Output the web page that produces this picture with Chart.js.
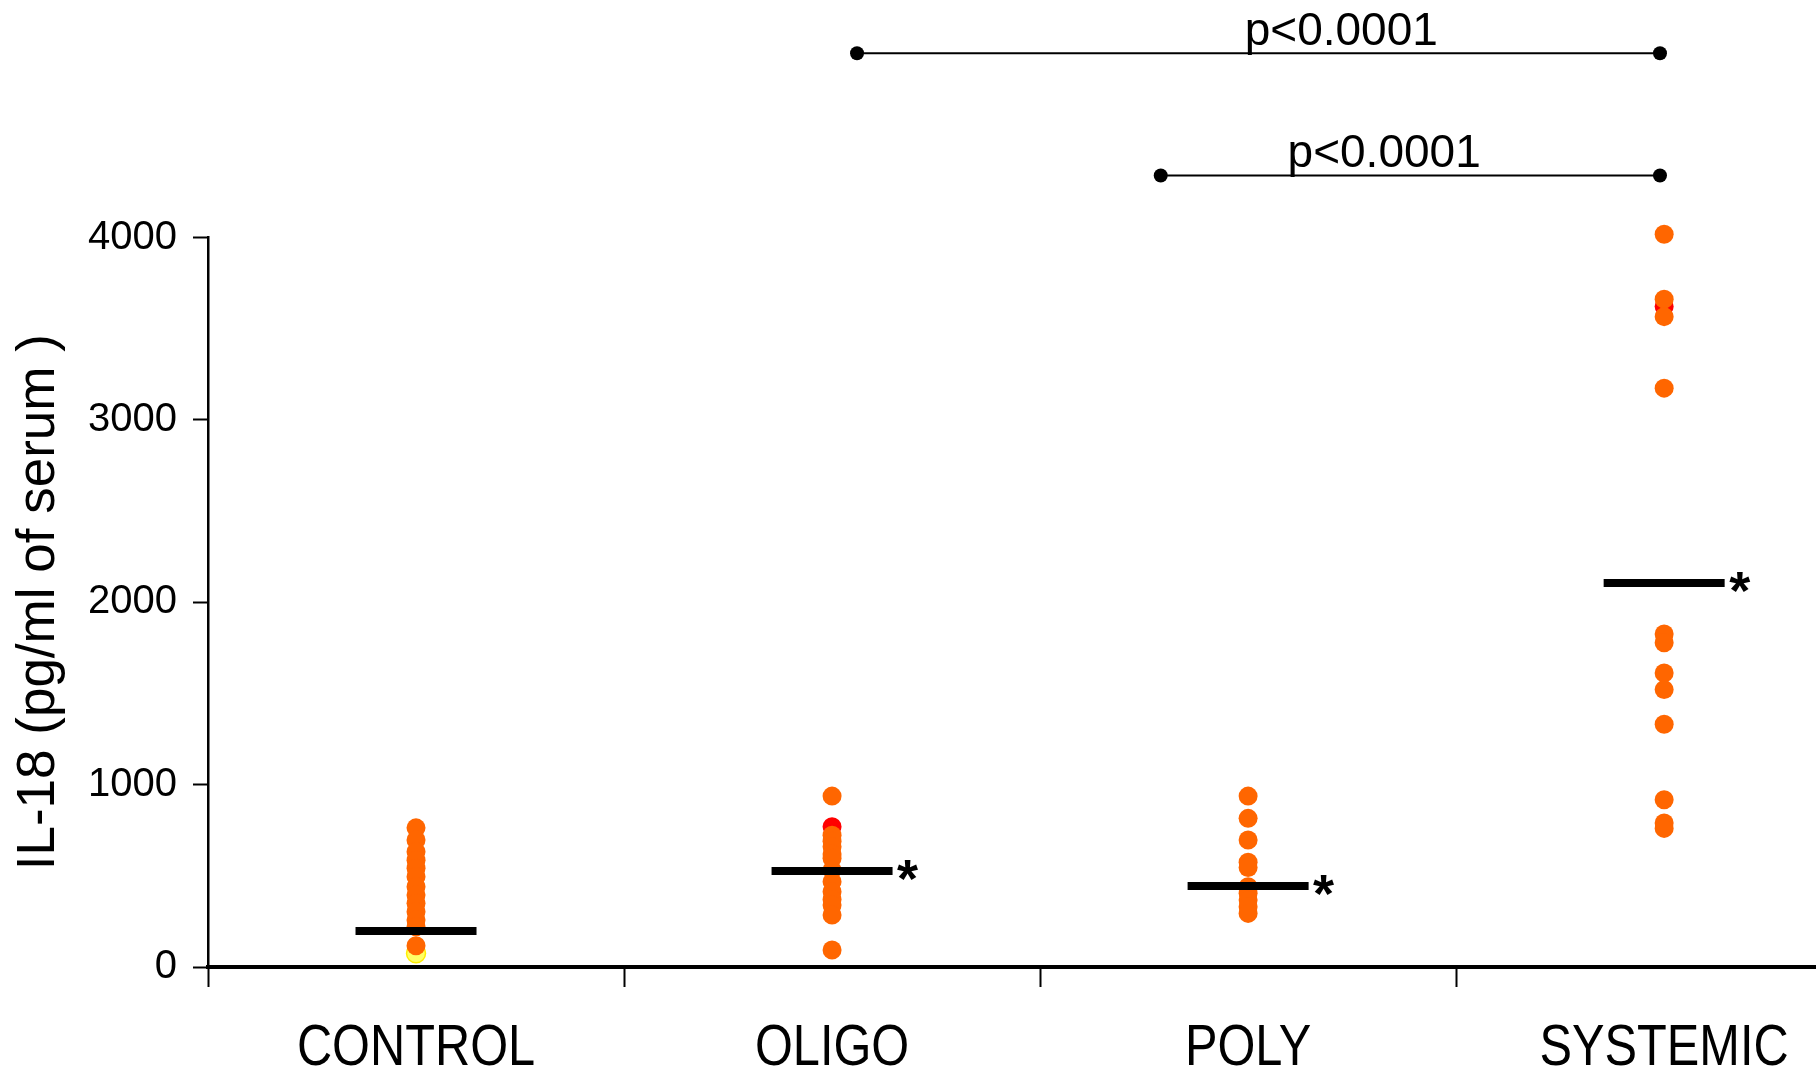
<!DOCTYPE html>
<html lang="en">
<head>
<meta charset="UTF-8">
<title>IL-18 serum levels</title>
<script src="https://cdn.jsdelivr.net/npm/chart.js"></script>
<style>
    html, body { margin: 0; padding: 0; background: #fff; }
    #wrap { width: 1816px; height: 1069px; }
</style>
</head>
<body>
<div id="wrap"><canvas id="il18Chart" width="1816" height="1069"></canvas></div>
<script>
// groups on the x axis
const groups = ['CONTROL', 'OLIGO', 'POLY', 'SYSTEMIC'];

// IL-18 values (pg/ml)
const controlValues = [763, 696, 632, 586, 541, 495, 440, 395, 349, 303, 258, 221, 117];
const oligoValues = [937, 723, 690, 659, 620, 596, 532, 468, 413, 370, 340, 285, 93];
const polyValues = [937, 815, 696, 575, 545, 440, 405, 367, 330, 294];
const systemicValues = [4018, 3662, 3566, 3174, 1826, 1778, 1612, 1521, 1331, 917, 790, 760];

// odd-coloured points, mostly hidden under the orange ones
const controlYellow = [75];
const oligoRed = [769];
const systemicRed = [3621];

// group means (black bars) and which ones get a star
const groupMeans = [197, 526, 444, 2105];
const starredGroups = [1, 2, 3];

const yTicks = [0, 1000, 2000, 3000, 4000];

// significance brackets: y level on the value axis, ends in group units
const brackets = [
    { level: 5010, from: 1.56, to: 3.49, textAt: 2.724, label: 'p<0.0001' },
    { level: 4340, from: 2.29, to: 3.49, textAt: 2.827, label: 'p<0.0001' }
];

const ORANGE = '#ff6600';
const FONT = '"Liberation Sans", Arial, sans-serif';
Chart.defaults.font.family = FONT;
Chart.defaults.color = '#000';

function points(groupIndex, values) {
    return values.map(v => ({ x: groupIndex + 0.5, y: v }));
}

function dots(data, color, order, border) {
    return {
        type: 'scatter',
        data: data,
        backgroundColor: color,
        borderColor: border || color,
        borderWidth: border ? 1.5 : 0,
        pointRadius: 9.5,
        pointHoverRadius: 9.5,
        clip: false,
        order: order
    };
}

// stars, p-value brackets and the condensed group names
const overlay = {
    id: 'overlay',
    afterDatasetsDraw(chart) {
        const { ctx, scales: { x, y } } = chart;
        ctx.save();
        ctx.fillStyle = '#000';
        ctx.strokeStyle = '#000';

        ctx.font = 'bold 54px ' + FONT;
        ctx.textAlign = 'left';
        ctx.textBaseline = 'alphabetic';
        starredGroups.forEach(i => {
            const px = x.getPixelForValue(i + 0.5) + 65;
            const py = y.getPixelForValue(groupMeans[i]) + 26;
            ctx.fillText('*', px, py);
        });

        ctx.lineWidth = 2;
        ctx.font = '46px ' + FONT;
        ctx.textAlign = 'center';
        brackets.forEach(b => {
            const yy = y.getPixelForValue(b.level);
            const x1 = x.getPixelForValue(b.from);
            const x2 = x.getPixelForValue(b.to);
            ctx.beginPath();
            ctx.moveTo(x1, yy);
            ctx.lineTo(x2, yy);
            ctx.stroke();
            [x1, x2].forEach(px => {
                ctx.beginPath();
                ctx.arc(px, yy, 7, 0, Math.PI * 2);
                ctx.fill();
            });
            ctx.fillText(b.label, x.getPixelForValue(b.textAt), yy - 8);
        });

        // group names: narrow type, so squeeze horizontally
        ctx.font = '58px ' + FONT;
        ctx.textAlign = 'center';
        ctx.textBaseline = 'alphabetic';
        groups.forEach((g, i) => {
            ctx.save();
            ctx.translate(x.getPixelForValue(i + 0.5), chart.chartArea.bottom + 98);
            ctx.scale(0.84, 1);
            ctx.fillText(g, 0, 0);
            ctx.restore();
        });
        ctx.restore();
    }
};

const datasets = [
    dots(points(0, controlValues), ORANGE, 2),
    dots(points(1, oligoValues), ORANGE, 2),
    dots(points(2, polyValues), ORANGE, 2),
    dots(points(3, systemicValues), ORANGE, 2),
    dots(points(1, oligoRed), '#ff0000', 3),
    dots(points(3, systemicRed), '#ff0000', 3),
    dots(points(0, controlYellow), '#ffff66', 4, '#ffee00'),
    {
        type: 'scatter',
        data: groupMeans.map((m, i) => ({ x: i + 0.5, y: m })),
        pointStyle: 'line',
        pointRadius: 60.5,
        pointHoverRadius: 60.5,
        borderColor: '#000',
        borderWidth: 8,
        order: 1
    }
];

new Chart(document.getElementById('il18Chart'), {
    type: 'scatter',
    data: { datasets: datasets },
    plugins: [overlay],
    options: {
        responsive: false,
        animation: false,
        events: [],
        layout: { autoPadding: false, padding: { top: 237.5, right: 0, bottom: 0, left: 0 } },
        plugins: {
            legend: { display: false },
            tooltip: { enabled: false }
        },
        scales: {
            x: {
                type: 'linear',
                min: 0,
                max: 3.865,
                afterBuildTicks: s => { s.ticks = [0, 1, 2, 3].map(v => ({ value: v })); },
                afterFit: s => { s.height = 102; s.paddingLeft = 0; s.paddingRight = 0; },
                grid: {
                    drawOnChartArea: false,
                    tickLength: 20,
                    tickWidth: 2,
                    tickColor: '#000'
                },
                border: { display: true, color: '#000', width: 4 },
                ticks: {
                    autoSkip: false,
                    maxRotation: 0,
                    callback: () => ''
                }
            },
            y: {
                type: 'linear',
                min: 0,
                max: 4000,
                afterBuildTicks: s => { s.ticks = yTicks.map(v => ({ value: v })); },
                afterFit: s => { s.width = 208; },
                grid: { drawOnChartArea: false, tickLength: 15, tickWidth: 2, tickColor: '#000' },
                border: { display: true, color: '#000', width: 2.5 },
                ticks: { padding: 16, color: '#000', font: { size: 40 }, callback: v => String(v) },
                title: {
                    display: true,
                    text: 'IL-18 (pg/ml of serum )',
                    color: '#000',
                    font: { size: 53 },
                    padding: { top: 8, bottom: 0 }
                }
            }
        }
    }
});
</script>
</body>
</html>
